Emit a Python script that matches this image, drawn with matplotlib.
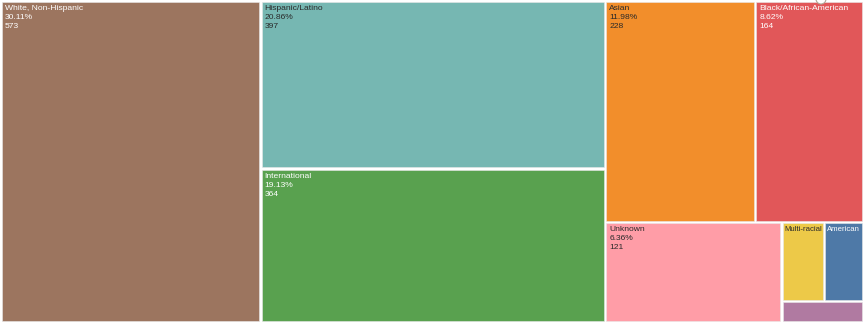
import matplotlib
matplotlib.use('Agg')
import matplotlib.pyplot as plt
from matplotlib.patches import Rectangle, Circle

plt.rcParams['font.family'] = ['Liberation Sans', 'DejaVu Sans']

categories = ['White, Non-Hispanic', 'Hispanic/Latino', 'International', 'Asian',
              'Black/African-American', 'Unknown', 'Multi-racial',
              'American Indian/Alaska Native', 'Native Hawaiian/Pacific Islander']
counts = [573, 397, 364, 228, 164, 121, 23, 21, 12]
colors = ['#9c755f', '#76b7b2', '#59a14f', '#f28e2b', '#e15759',
          '#ff9da7', '#edc948', '#4e79a7', '#b07aa1']

total = sum(counts)
PHI = (1 + 5 ** 0.5) / 2


def squarify(values, x0, y0, x1, y1, ratio=PHI):
    # d3-style squarified treemap
    rects = []
    value = float(sum(values))
    i0 = i1 = 0
    n = len(values)
    while i0 < n:
        dx, dy = x1 - x0, y1 - y0
        sum_v = values[i1]
        i1 += 1
        min_v = max_v = sum_v
        alpha = max(dy / dx, dx / dy) / (value * ratio)
        beta = sum_v * sum_v * alpha
        min_ratio = max(max_v / beta, beta / min_v)
        while i1 < n:
            v = values[i1]
            sum_v += v
            min_v, max_v = min(min_v, v), max(max_v, v)
            beta = sum_v * sum_v * alpha
            new_ratio = max(max_v / beta, beta / min_v)
            if new_ratio > min_ratio:
                sum_v -= v
                break
            min_ratio = new_ratio
            i1 += 1
        row = values[i0:i1]
        if dx < dy:
            ny = y0 + dy * sum_v / value
            cx = x0
            for v in row:
                w = dx * v / sum_v
                rects.append((cx, y0, w, ny - y0))
                cx += w
            y0 = ny
        else:
            nx = x0 + dx * sum_v / value
            cy = y0
            for v in row:
                h = dy * v / sum_v
                rects.append((x0, cy, nx - x0, h))
                cy += h
            x0 = nx
        value -= sum_v
        i0 = i1
    return rects


fig = plt.figure(figsize=(8.64, 3.23), dpi=100)
ax = fig.add_axes([0, 0, 1, 1])
ax.set_xlim(0, 864)
ax.set_ylim(323, 0)
ax.axis('off')

rects = squarify(counts, 1, 1, 863, 322)
pad = 1.1
for (x, y, w, h), name, c, col in zip(rects, categories, counts, colors):
    patch = Rectangle((x + pad, y + pad), w - 2 * pad, h - 2 * pad,
                      facecolor=col, edgecolor='#e8e8e8', linewidth=0.4)
    ax.add_patch(patch)
    r, g, b = [int(col[i:i + 2], 16) for i in (1, 3, 5)]
    tcol = 'white' if 0.299 * r + 0.587 * g + 0.114 * b < 145 else '#2a2a2a'
    if h < 30:
        continue
    if h > 90:
        txt = '%s\n%.2f%%\n%d' % (name, 100.0 * c / total, c)
        t = ax.text(x + pad + 3, y + pad + 3, txt, color=tcol, fontsize=6.1,
                    ha='left', va='top', linespacing=1.42, zorder=5)
    else:
        # small tile: just the first word of the name
        t = ax.text(x + pad + 1.5, y + pad + 3, name.split()[0], color=tcol,
                    fontsize=5.6, ha='left', va='top', zorder=5)
    t.set_clip_path(patch)

ax.add_patch(Circle((821, -1), 5, facecolor='white', edgecolor='#b0a898',
                    linewidth=0.8, clip_on=False))

fig.savefig('out.png', dpi=100)
